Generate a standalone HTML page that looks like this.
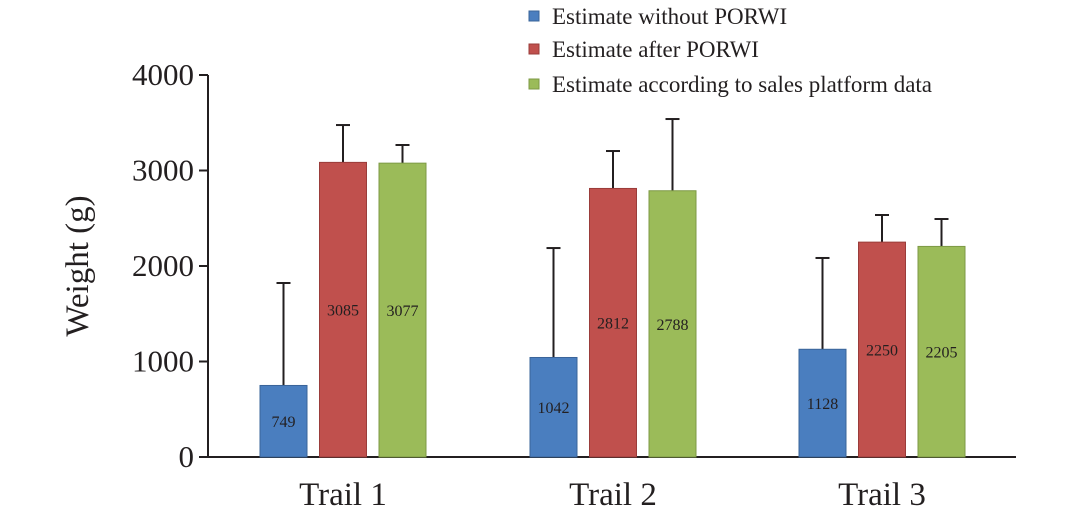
<!DOCTYPE html>
<html><head><meta charset="utf-8"><style>
body{margin:0;background:#fff}
svg text{font-family:"Liberation Serif",serif;fill:#231f20}
</style></head><body>
<svg id="chart" width="1080" height="515" viewBox="0 0 1080 515" xmlns="http://www.w3.org/2000/svg">
<g id="legend">
 <g><rect x="529" y="11" width="10" height="10" fill="#4a7ebf" stroke="#3a6499"/><text x="552" y="24" font-size="23">Estimate without PORWI</text></g>
 <g><rect x="529" y="44" width="10" height="10" fill="#c0504d" stroke="#9a3c3a"/><text x="552" y="57" font-size="23">Estimate after PORWI</text></g>
 <g><rect x="529" y="79" width="10" height="10" fill="#9bbb59" stroke="#7d9a45"/><text x="552" y="92" font-size="23">Estimate according to sales platform data</text></g>
</g>
<text transform="translate(88,266) rotate(-90)" text-anchor="middle" font-size="33">Weight (g)</text>
<g id="plot"></g>
</svg>
<script>
const categories=["Trail 1","Trail 2","Trail 3"];
const seriesNames=["without","after","sales"];
const withoutVals=[749,1042,1128];
const afterVals=[3085,2812,2250];
const salesVals=[3077,2788,2205];
const withoutErrTop=[1822,2188,2084];
const afterErrTop=[3476,3204,2534];
const salesErrTop=[3267,3539,2492];
const yTicks=[0,1000,2000,3000,4000];
const fills=["#4a7ebf","#c0504d","#9bbb59"], strokes=["#3a6499","#9a3c3a","#7d9a45"];
const NS="http://www.w3.org/2000/svg";
const y0=457, yScale=v=>y0-v*(382/4000);
const axisX=208, groupStart=[260,530,799], barW=47, barStep=59.5;
const g=document.getElementById('plot');
function mk(t,a){const e=document.createElementNS(NS,t);for(const k in a)e.setAttribute(k,a[k]);g.appendChild(e);return e;}
let e=mk('line',{x1:axisX,y1:yScale(4000),x2:axisX,y2:y0+1,stroke:'#231f20','stroke-width':2});


e=mk('line',{x1:axisX-1,y1:y0,x2:1016,y2:y0,stroke:'#231f20','stroke-width':2});


yTicks.forEach(v=>{
 const t=mk('line',{x1:axisX-9,x2:axisX,y1:yScale(v),y2:yScale(v),stroke:'#231f20','stroke-width':2});
 
 
 const l=mk('text',{x:axisX-14,y:yScale(v)+10,'text-anchor':'end','font-size':31});
 l.textContent=v;
 
 
});
const vals=[withoutVals,afterVals,salesVals], errs=[withoutErrTop,afterErrTop,salesErrTop];
categories.forEach((c,i)=>{
 const lab=mk('text',{x:groupStart[i]+barStep+barW/2,y:505,'text-anchor':'middle','font-size':33});
 lab.textContent=c;
 
 
 vals.forEach((s,j)=>{
  const x=groupStart[i]+j*barStep, cx=x+barW/2, top=yScale(s[i]);
  const et=yScale(errs[j][i]);
  const el=mk('line',{x1:cx,x2:cx,y1:et,y2:top,stroke:'#231f20','stroke-width':2});
  
  
  const ec=mk('line',{x1:cx-7,x2:cx+7,y1:et,y2:et,stroke:'#231f20','stroke-width':2});
  
  
  const r=mk('rect',{x:x,y:top,width:barW,height:y0-top,fill:fills[j],stroke:strokes[j],'stroke-width':1});
  
  
  const vt=mk('text',{x:cx,y:(top+y0)/2+6,'text-anchor':'middle','font-size':16});
  vt.textContent=s[i];
  
  
 });
});
</script>
</body></html>
